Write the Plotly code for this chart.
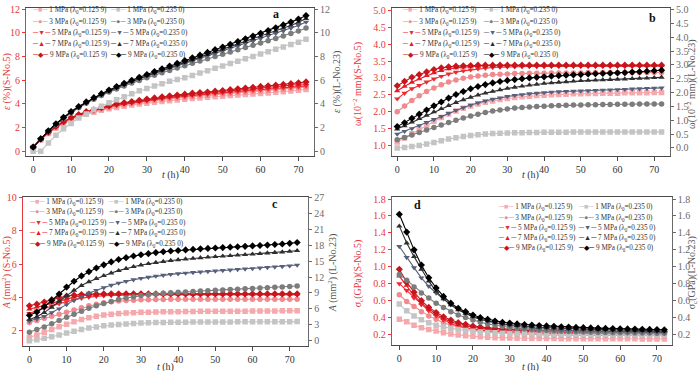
import plotly.graph_objects as go

t = list(range(0, 74, 2))
press = [1, 3, 5, 7, 9]

# a: strain (%)
eps_S5 = {
    1: [0.3, 0.95, 1.5, 1.95, 2.32, 2.63, 2.9, 3.12, 3.3, 3.45, 3.58, 3.7, 3.8, 3.9, 3.98, 4.06, 4.13, 4.2, 4.27, 4.33,
        4.39, 4.45, 4.5, 4.55, 4.6, 4.65, 4.7, 4.74, 4.78, 4.83, 4.88, 4.92, 4.97, 5.02, 5.08, 5.15, 5.22],
    3: [0.32, 1.0, 1.55, 2.03, 2.42, 2.75, 3.0, 3.22, 3.4, 3.56, 3.7, 3.83, 3.93, 4.03, 4.12, 4.2, 4.28, 4.36, 4.43, 4.5,
        4.56, 4.62, 4.68, 4.73, 4.78, 4.83, 4.88, 4.93, 4.98, 5.03, 5.08, 5.13, 5.18, 5.24, 5.3, 5.36, 5.43],
    5: [0.33, 1.03, 1.58, 2.05, 2.45, 2.78, 3.04, 3.26, 3.43, 3.6, 3.75, 3.88, 3.98, 4.08, 4.18, 4.27, 4.36, 4.44, 4.51, 4.58,
        4.64, 4.7, 4.76, 4.82, 4.88, 4.93, 4.98, 5.04, 5.1, 5.15, 5.2, 5.25, 5.3, 5.35, 5.4, 5.45, 5.52],
    7: [0.35, 1.05, 1.6, 2.08, 2.48, 2.8, 3.07, 3.3, 3.47, 3.65, 3.8, 3.95, 4.05, 4.15, 4.25, 4.35, 4.45, 4.53, 4.6, 4.67,
        4.74, 4.8, 4.86, 4.92, 4.98, 5.04, 5.1, 5.16, 5.22, 5.28, 5.34, 5.4, 5.45, 5.5, 5.56, 5.62, 5.7],
    9: [0.35, 1.05, 1.6, 2.1, 2.5, 2.85, 3.1, 3.35, 3.5, 3.7, 3.85, 4.0, 4.1, 4.2, 4.3, 4.4, 4.5, 4.6, 4.68, 4.75,
        4.82, 4.9, 4.95, 5.0, 5.07, 5.13, 5.2, 5.27, 5.33, 5.4, 5.47, 5.52, 5.58, 5.64, 5.7, 5.78, 5.85],
}
eps_L23 = {
    1: [0, 0, 0.7, 1.35, 1.9, 2.35, 2.8, 3.15, 3.5, 3.8, 4.1, 4.35, 4.6, 4.85, 5.1, 5.3, 5.5, 5.7, 5.9, 6.05,
        6.2, 6.4, 6.6, 6.8, 7.0, 7.2, 7.4, 7.6, 7.8, 8.0, 8.2, 8.4, 8.6, 8.8, 9.0, 9.2, 9.45],
    3: [0.35, 1.03, 1.68, 2.25, 2.78, 3.25, 3.67, 4.05, 4.39, 4.7, 4.99, 5.26, 5.51, 5.75, 5.98, 6.2, 6.41, 6.62, 6.82, 7.02,
        7.22, 7.42, 7.62, 7.81, 8.0, 8.19, 8.38, 8.57, 8.76, 8.95, 9.14, 9.33, 9.52, 9.72, 9.93, 10.15, 10.4],
    5: [0.35, 1.05, 1.7, 2.28, 2.82, 3.3, 3.72, 4.1, 4.44, 4.77, 5.07, 5.35, 5.61, 5.86, 6.1, 6.33, 6.55, 6.77, 6.99, 7.2,
        7.41, 7.62, 7.83, 8.04, 8.25, 8.46, 8.67, 8.88, 9.09, 9.3, 9.51, 9.72, 9.93, 10.15, 10.38, 10.62, 10.9],
    7: [0.35, 1.05, 1.7, 2.3, 2.84, 3.32, 3.74, 4.12, 4.47, 4.8, 5.1, 5.38, 5.65, 5.9, 6.14, 6.38, 6.61, 6.84, 7.06, 7.28,
        7.5, 7.72, 7.94, 8.16, 8.38, 8.6, 8.82, 9.04, 9.26, 9.48, 9.7, 9.92, 10.14, 10.38, 10.62, 10.88, 11.2],
    9: [0.35, 1.05, 1.72, 2.32, 2.86, 3.35, 3.78, 4.16, 4.52, 4.86, 5.17, 5.46, 5.73, 5.99, 6.24, 6.48, 6.72, 6.96, 7.19, 7.42,
        7.65, 7.88, 8.11, 8.34, 8.57, 8.8, 9.03, 9.26, 9.49, 9.72, 9.95, 10.18, 10.42, 10.66, 10.9, 11.15, 11.45],
}

# b: omega (10^-2 mm)
om_S5 = {
    1: [1.1, 1.22, 1.35, 1.48, 1.6, 1.72, 1.83, 1.93, 2.02, 2.1, 2.17, 2.23, 2.28, 2.32, 2.36, 2.39, 2.42, 2.44, 2.46, 2.48,
        2.49, 2.5, 2.51, 2.52, 2.53, 2.53, 2.54, 2.54, 2.55, 2.55, 2.55, 2.56, 2.56, 2.56, 2.56, 2.57, 2.57],
    3: [2.0, 2.17, 2.33, 2.47, 2.6, 2.7, 2.8, 2.88, 2.94, 2.99, 3.03, 3.06, 3.08, 3.1, 3.11, 3.12, 3.13, 3.13, 3.14, 3.14,
        3.14, 3.15, 3.15, 3.15, 3.15, 3.15, 3.16, 3.16, 3.16, 3.16, 3.16, 3.16, 3.16, 3.16, 3.16, 3.16, 3.16],
    5: [2.38, 2.55, 2.68, 2.78, 2.88, 2.97, 3.05, 3.12, 3.17, 3.21, 3.24, 3.27, 3.29, 3.31, 3.32, 3.33, 3.33, 3.34, 3.34, 3.34,
        3.34, 3.35, 3.35, 3.35, 3.35, 3.35, 3.35, 3.35, 3.35, 3.35, 3.35, 3.35, 3.35, 3.35, 3.35, 3.35, 3.35],
    7: [2.62, 2.75, 2.87, 2.97, 3.07, 3.15, 3.22, 3.27, 3.3, 3.32, 3.34, 3.35, 3.36, 3.36, 3.37, 3.37, 3.37, 3.37, 3.37, 3.37,
        3.37, 3.37, 3.37, 3.37, 3.37, 3.37, 3.37, 3.37, 3.37, 3.37, 3.37, 3.37, 3.37, 3.37, 3.37, 3.37, 3.37],
    9: [2.77, 2.9, 3.02, 3.1, 3.18, 3.25, 3.3, 3.33, 3.35, 3.36, 3.37, 3.38, 3.38, 3.38, 3.38, 3.38, 3.38, 3.38, 3.38, 3.38,
        3.38, 3.38, 3.38, 3.38, 3.38, 3.38, 3.38, 3.38, 3.38, 3.38, 3.38, 3.38, 3.38, 3.38, 3.38, 3.38, 3.38],
}
om_L23 = {
    1: [0.0, 0.02, 0.05, 0.09, 0.14, 0.2, 0.26, 0.32, 0.37, 0.41, 0.45, 0.48, 0.5, 0.52, 0.53, 0.54, 0.55, 0.55, 0.56, 0.56,
        0.57, 0.57, 0.57, 0.57, 0.58, 0.58, 0.58, 0.58, 0.58, 0.58, 0.58, 0.58, 0.58, 0.58, 0.58, 0.58, 0.58],
    3: [0.3, 0.38, 0.47, 0.56, 0.65, 0.74, 0.83, 0.92, 1.0, 1.08, 1.15, 1.22, 1.28, 1.33, 1.37, 1.41, 1.44, 1.46, 1.48, 1.5,
        1.51, 1.52, 1.53, 1.54, 1.55, 1.55, 1.56, 1.56, 1.57, 1.57, 1.58, 1.58, 1.58, 1.59, 1.59, 1.59, 1.59],
    5: [0.5, 0.6, 0.7, 0.81, 0.92, 1.03, 1.14, 1.25, 1.36, 1.46, 1.55, 1.63, 1.7, 1.76, 1.81, 1.86, 1.9, 1.93, 1.96, 1.98,
        2.0, 2.02, 2.03, 2.04, 2.05, 2.06, 2.07, 2.08, 2.09, 2.1, 2.11, 2.12, 2.13, 2.14, 2.15, 2.16, 2.17],
    7: [0.68, 0.8, 0.93, 1.06, 1.18, 1.3, 1.42, 1.53, 1.64, 1.74, 1.83, 1.91, 1.98, 2.04, 2.1, 2.15, 2.19, 2.23, 2.27, 2.3,
        2.33, 2.35, 2.37, 2.39, 2.41, 2.43, 2.44, 2.45, 2.46, 2.47, 2.48, 2.49, 2.5, 2.51, 2.52, 2.54, 2.55],
    9: [0.77, 0.91, 1.07, 1.22, 1.37, 1.52, 1.66, 1.8, 1.93, 2.04, 2.14, 2.22, 2.29, 2.35, 2.4, 2.44, 2.47, 2.5, 2.53, 2.55,
        2.57, 2.59, 2.61, 2.63, 2.64, 2.65, 2.67, 2.68, 2.69, 2.7, 2.71, 2.72, 2.74, 2.75, 2.77, 2.79, 2.81],
}

# c: A (mm^2)
A_S5 = {
    1: [1.6, 1.75, 1.92, 2.08, 2.24, 2.4, 2.55, 2.68, 2.79, 2.88, 2.95, 3.0, 3.04, 3.07, 3.09, 3.11, 3.12, 3.13, 3.14, 3.15,
        3.15, 3.16, 3.16, 3.17, 3.17, 3.17, 3.18, 3.18, 3.18, 3.18, 3.19, 3.19, 3.19, 3.19, 3.2, 3.2, 3.2],
    3: [2.5, 2.62, 2.75, 2.88, 3.0, 3.12, 3.25, 3.38, 3.5, 3.6, 3.68, 3.74, 3.79, 3.82, 3.84, 3.86, 3.87, 3.88, 3.88, 3.89,
        3.89, 3.89, 3.89, 3.9, 3.9, 3.9, 3.9, 3.9, 3.9, 3.9, 3.9, 3.9, 3.9, 3.9, 3.9, 3.9, 3.9],
    5: [3.05, 3.2, 3.35, 3.5, 3.63, 3.75, 3.86, 3.95, 4.02, 4.07, 4.1, 4.12, 4.14, 4.15, 4.16, 4.16, 4.17, 4.17, 4.17, 4.17,
        4.17, 4.17, 4.17, 4.17, 4.17, 4.17, 4.17, 4.17, 4.17, 4.17, 4.17, 4.17, 4.17, 4.17, 4.17, 4.17, 4.17],
    7: [3.3, 3.42, 3.55, 3.68, 3.8, 3.92, 4.02, 4.1, 4.15, 4.17, 4.19, 4.2, 4.2, 4.2, 4.2, 4.2, 4.2, 4.2, 4.2, 4.2,
        4.2, 4.2, 4.2, 4.2, 4.2, 4.2, 4.2, 4.2, 4.2, 4.2, 4.2, 4.2, 4.2, 4.2, 4.2, 4.2, 4.2],
    9: [3.5, 3.6, 3.73, 3.87, 3.98, 4.08, 4.14, 4.18, 4.2, 4.21, 4.22, 4.22, 4.22, 4.22, 4.22, 4.22, 4.22, 4.22, 4.22, 4.22,
        4.22, 4.22, 4.22, 4.22, 4.22, 4.22, 4.22, 4.22, 4.22, 4.22, 4.22, 4.22, 4.22, 4.22, 4.22, 4.22, 4.22],
}
A_L23 = {
    1: [0.0, 0.2, 0.45, 0.75, 1.1, 1.45, 1.8, 2.1, 2.4, 2.6, 2.8, 2.95, 3.07, 3.17, 3.25, 3.32, 3.37, 3.41, 3.44, 3.46,
        3.48, 3.5, 3.51, 3.52, 3.53, 3.54, 3.55, 3.55, 3.56, 3.56, 3.57, 3.57, 3.58, 3.58, 3.59, 3.59, 3.6],
    3: [1.6, 2.1, 2.6, 3.2, 3.8, 4.4, 5.0, 5.55, 6.1, 6.6, 7.0, 7.4, 7.75, 8.05, 8.3, 8.5, 8.67, 8.8, 8.92, 9.02,
        9.12, 9.2, 9.28, 9.36, 9.43, 9.5, 9.57, 9.64, 9.71, 9.78, 9.85, 9.92, 9.99, 10.06, 10.14, 10.22, 10.3],
    5: [3.7, 4.1, 4.6, 5.3, 6.0, 6.8, 7.6, 8.3, 8.95, 9.5, 10.0, 10.45, 10.85, 11.2, 11.5, 11.75, 11.97, 12.17, 12.35, 12.5,
        12.63, 12.75, 12.86, 12.96, 13.06, 13.15, 13.24, 13.33, 13.42, 13.51, 13.6, 13.7, 13.8, 13.9, 14.0, 14.12, 14.25],
    7: [4.0, 4.5, 5.3, 6.3, 7.4, 8.5, 9.5, 10.4, 11.1, 11.7, 12.25, 12.75, 13.2, 13.6, 13.95, 14.25, 14.5, 14.72, 14.92, 15.1,
        15.25, 15.38, 15.5, 15.62, 15.73, 15.83, 15.93, 16.02, 16.11, 16.2, 16.3, 16.4, 16.5, 16.6, 16.7, 16.82, 16.95],
    9: [4.8, 5.4, 6.4, 7.6, 8.8, 10.1, 11.2, 12.2, 13.0, 13.7, 14.3, 14.85, 15.3, 15.65, 15.95, 16.2, 16.4, 16.6, 16.75, 16.9,
        17.0, 17.1, 17.2, 17.3, 17.38, 17.46, 17.54, 17.62, 17.7, 17.78, 17.86, 17.94, 18.02, 18.12, 18.22, 18.35, 18.5],
}

# d: sigma_c (GPa)
sig_S5 = {
    1: [0.38, 0.35, 0.31, 0.28, 0.26, 0.24, 0.22, 0.205, 0.195, 0.185, 0.178, 0.172, 0.167, 0.163, 0.16, 0.158, 0.156, 0.155,
        0.154, 0.153, 0.152, 0.152, 0.151, 0.151, 0.15, 0.15, 0.15, 0.15, 0.149, 0.149, 0.149, 0.149, 0.149, 0.148, 0.148, 0.148, 0.148],
    3: [0.67, 0.59, 0.53, 0.47, 0.42, 0.38, 0.34, 0.31, 0.29, 0.27, 0.255, 0.243, 0.233, 0.225, 0.218, 0.212, 0.207, 0.203,
        0.2, 0.198, 0.196, 0.194, 0.193, 0.192, 0.191, 0.19, 0.19, 0.189, 0.189, 0.188, 0.188, 0.188, 0.187, 0.187, 0.187, 0.187, 0.186],
    5: [0.8, 0.72, 0.63, 0.55, 0.48, 0.42, 0.37, 0.33, 0.3, 0.28, 0.265, 0.252, 0.242, 0.235, 0.229, 0.224, 0.22, 0.217,
        0.215, 0.213, 0.211, 0.21, 0.209, 0.208, 0.207, 0.207, 0.206, 0.206, 0.205, 0.205, 0.205, 0.204, 0.204, 0.204, 0.204, 0.203, 0.203],
    7: [0.89, 0.78, 0.66, 0.57, 0.5, 0.44, 0.39, 0.35, 0.32, 0.3, 0.285, 0.272, 0.262, 0.254, 0.248, 0.243, 0.239, 0.236,
        0.233, 0.231, 0.229, 0.228, 0.227, 0.226, 0.225, 0.225, 0.224, 0.224, 0.223, 0.223, 0.222, 0.222, 0.222, 0.221, 0.221, 0.221, 0.22],
    9: [0.97, 0.82, 0.7, 0.6, 0.52, 0.46, 0.41, 0.37, 0.34, 0.32, 0.3, 0.288, 0.278, 0.27, 0.264, 0.259, 0.255, 0.252,
        0.249, 0.247, 0.245, 0.243, 0.242, 0.241, 0.24, 0.239, 0.238, 0.237, 0.236, 0.236, 0.235, 0.235, 0.234, 0.234, 0.233, 0.233, 0.232],
}
sig_L23 = {
    1: [0.56, 0.48, 0.42, 0.375, 0.34, 0.31, 0.29, 0.272, 0.258, 0.247, 0.238, 0.231, 0.225, 0.22, 0.216, 0.213, 0.21, 0.208,
        0.206, 0.205, 0.204, 0.203, 0.202, 0.201, 0.2, 0.2, 0.199, 0.199, 0.198, 0.198, 0.197, 0.197, 0.196, 0.196, 0.195, 0.195, 0.195],
    3: [0.91, 0.84, 0.76, 0.69, 0.63, 0.57, 0.52, 0.47, 0.43, 0.4, 0.37, 0.345, 0.325, 0.308, 0.294, 0.282, 0.272, 0.264,
        0.257, 0.251, 0.246, 0.242, 0.238, 0.235, 0.232, 0.229, 0.227, 0.225, 0.223, 0.222, 0.221, 0.22, 0.219, 0.218, 0.217, 0.216, 0.215],
    5: [1.24, 1.11, 0.99, 0.87, 0.77, 0.69, 0.62, 0.55, 0.5, 0.45, 0.41, 0.38, 0.355, 0.335, 0.318, 0.304, 0.292, 0.282,
        0.274, 0.267, 0.261, 0.256, 0.252, 0.248, 0.245, 0.242, 0.24, 0.238, 0.236, 0.234, 0.232, 0.23, 0.229, 0.228, 0.227, 0.226, 0.225],
    7: [1.48, 1.28, 1.12, 0.97, 0.83, 0.71, 0.62, 0.55, 0.49, 0.45, 0.41, 0.38, 0.36, 0.34, 0.325, 0.315, 0.305, 0.298,
        0.292, 0.286, 0.281, 0.277, 0.273, 0.27, 0.267, 0.264, 0.261, 0.259, 0.257, 0.255, 0.253, 0.251, 0.249, 0.247, 0.245, 0.243, 0.241],
    9: [1.62, 1.41, 1.2, 1.02, 0.87, 0.75, 0.65, 0.57, 0.51, 0.47, 0.43, 0.4, 0.38, 0.36, 0.345, 0.335, 0.325, 0.318,
        0.312, 0.306, 0.301, 0.296, 0.292, 0.288, 0.284, 0.281, 0.278, 0.275, 0.272, 0.27, 0.268, 0.266, 0.264, 0.262, 0.26, 0.258, 0.256],
}

W, H = 700, 371
FONT = "Times New Roman, Liberation Serif, serif"
RED = "#e5383b"
GRY = "#6a6a6a"
AXC = "#4a4a4a"

red_c = {1: "#f5a9ad", 3: "#f08a8e", 5: "#ee2a30", 7: "#e81b22", 9: "#c8151c"}
grey_c = {1: "#c4c4c4", 3: "#7c7c7c", 5: "#56607a", 7: "#2e2e2e", 9: "#000000"}
sym = {1: "square", 3: "circle", 5: "triangle-down", 7: "triangle-up", 9: "diamond"}
glyph = {1: "■", 3: "●", 5: "▼", 7: "▲", 9: "◆"}

# panel boxes in pixels: left, right, top, bottom
panels = [
    dict(key="a", S=eps_S5, L=eps_L23, box=(26, 314, 3.5, 153.3), xr=[-1.9, 74.1],
         yl=dict(range=[-0.42, 12.05], dtick=2, tickformat="d"), yr=dict(range=[-0.42, 12.05], dtick=2, tickformat="d"),
         tl="<i>ε</i> (%)(S-No.5)", tr="<i>ε</i> (%)(L-No.23)", tlx=7, trx=337, ty=78, xt=(170, 172),
         leg=(30, 6, 11.4, 108), lab=(276, 9)),
    dict(key="b", S=om_S5, L=om_L23, box=(391.7, 670, 3.5, 153.3), xr=[-1.5, 74.3],
         yl=dict(range=[0.68, 5.06], dtick=0.5, tickformat=".1f"), yr=dict(range=[-0.3, 5.04], dtick=0.5, tickformat=".1f"),
         tl="ω(10<sup>−2</sup> mm)(S-No.5)", tr="ω(10<sup>−2</sup> mm)(L-No.23)", tlx=358, trx=692, ty=80, xt=(530, 172),
         leg=(400, 6, 11.4, 481), lab=(652, 13)),
    dict(key="c", S=A_S5, L=A_L23, box=(22.7, 308.3, 195, 345.7), xr=[-1.8, 75.0],
         yl=dict(range=[1.09, 10.0], dtick=2, tickformat="d"), yr=dict(range=[-1.0, 27.0], dtick=3, tickformat="d"),
         tl="<i>A</i> (mm<sup>2</sup>) (S-No.5)", tr="<i>A</i> (mm<sup>2</sup>) (L-No.23)", tlx=6, trx=332, ty=272, xt=(165, 367),
         leg=(27, 200, 10.6, 106), lab=(275, 202)),
    dict(key="d", S=sig_S5, L=sig_L23, box=(391.7, 671.7, 195, 344.3), xr=[-2.07, 74.0],
         yl=dict(range=[0.08, 1.82], dtick=0.2, tickformat=".1f"), yr=dict(range=[0.08, 1.82], dtick=0.2, tickformat=".1f"),
         tl="σ<sub>c</sub>(GPa)(S-No.5)", tr="σ<sub>c</sub>(GPa)(L-No.23)", tlx=358, trx=692, ty=272, xt=(530, 367),
         leg=(496, 205.7, 10.3, 576), lab=(417, 203)),
]

fig = go.Figure()
annotations = []
layout = {}


def px(x):
    return x / W


def py(y):
    return 1 - y / H


def note(x, y, text, size, color, xanchor="center", **kw):
    return dict(x=px(x), y=py(y), xref="paper", yref="paper", text=text, showarrow=False,
                xanchor=xanchor, yanchor="middle",
                font=dict(size=size, color=color, family=FONT), **kw)


for i, p in enumerate(panels):
    xn = "x" if i == 0 else f"x{i + 1}"
    yln = "y" if i == 0 else f"y{2 * i + 1}"
    yrn = f"y{2 * i + 2}"
    l, r, tp, bt = p["box"]

    for k in press:
        fig.add_trace(go.Scatter(x=t, y=p["S"][k], mode="lines+markers", xaxis=xn, yaxis=yln,
                                 line=dict(color=red_c[k], width=1.1),
                                 marker=dict(symbol=sym[k], size=5.5, color=red_c[k]),
                                 showlegend=False))
    for k in press:
        fig.add_trace(go.Scatter(x=t, y=p["L"][k], mode="lines+markers", xaxis=xn, yaxis=yrn,
                                 line=dict(color=grey_c[k], width=1.1),
                                 marker=dict(symbol=sym[k], size=5.5, color=grey_c[k]),
                                 showlegend=False))

    xkey = "xaxis" if i == 0 else f"xaxis{i + 1}"
    ylkey = "yaxis" if i == 0 else f"yaxis{2 * i + 1}"
    yrkey = f"yaxis{2 * i + 2}"
    layout[xkey] = dict(domain=[px(l), px(r)], range=p["xr"], anchor=yln, dtick=10, tick0=0,
                        showline=True, mirror=True, linecolor=AXC, linewidth=1, ticks="outside",
                        ticklen=4, tickcolor=AXC, showgrid=False, zeroline=False,
                        tickfont=dict(size=10, color="#333", family=FONT))
    layout[ylkey] = dict(domain=[py(bt), py(tp)], anchor=xn, side="left", showline=True,
                         linecolor=RED, linewidth=1, ticks="outside", ticklen=3, tickcolor=RED,
                         showgrid=False, zeroline=False, tickfont=dict(size=10, color=RED, family=FONT),
                         **p["yl"])
    layout[yrkey] = dict(overlaying=yln, anchor=xn, side="right", showline=True,
                         linecolor=GRY, linewidth=1, ticks="outside", ticklen=3, tickcolor=GRY,
                         showgrid=False, zeroline=False, tickfont=dict(size=10, color=GRY, family=FONT),
                         **p["yr"])

    # axis titles
    ymid = p["ty"]
    annotations.append(note(p["tlx"], ymid, p["tl"], 10, RED, textangle=-90))
    annotations.append(note(p["trx"], ymid, p["tr"], 10, "#555", textangle=-90))
    annotations.append(note(p["xt"][0], p["xt"][1], "<i>t</i> (h)", 10, "#333"))
    annotations.append(note(p["lab"][0], p["lab"][1], "<b>%s</b>" % p["key"], 12, "#111"))

    # legend rows
    lx, ly, dy, lx2 = p["leg"]
    for j, k in enumerate(press):
        yy = ly + j * dy
        annotations.append(note(lx, yy, "<span style='color:%s'>─%s─</span> %d MPa (λ<sub>0</sub>=0.125 9)" % (red_c[k], glyph[k], k),
                                7.2, "#333", xanchor="left"))
        annotations.append(note(lx2, yy, "<span style='color:%s'>─%s─</span> %d MPa (λ<sub>0</sub>=0.235 0)" % (grey_c[k], glyph[k], k),
                                7.2, "#333", xanchor="left"))

fig.update_layout(width=W, height=H, margin=dict(l=0, r=0, t=0, b=0), paper_bgcolor="white",
                  plot_bgcolor="white", showlegend=False, annotations=annotations,
                  font=dict(family=FONT), **layout)

fig.write_html("out.html", config={"displayModeBar": False},
               post_script="document.body.style.margin='0px';")
